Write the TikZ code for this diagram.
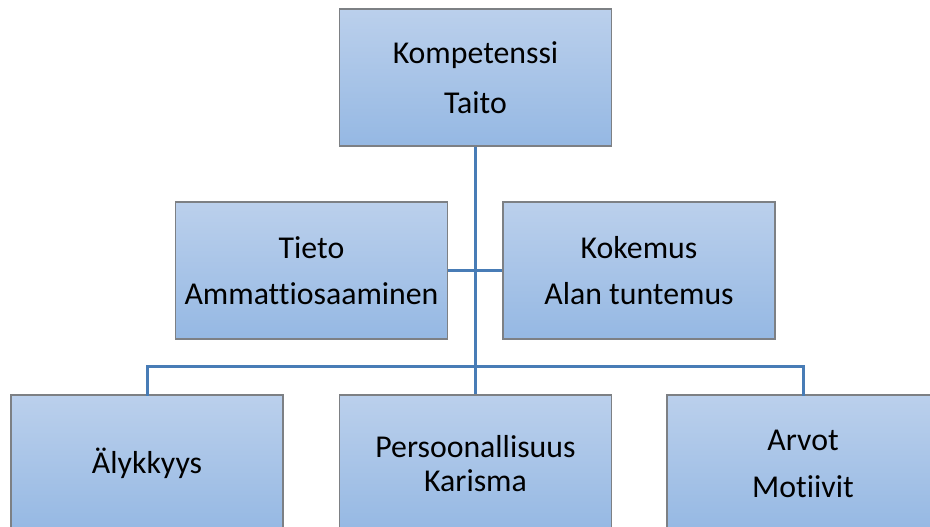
\documentclass[tikz,border=0pt]{standalone}
\usepackage{fontspec}
\setmainfont{Carlito}[Ligatures=NoCommon]
\definecolor{boxtop}{RGB}{187,208,236}
\definecolor{boxbot}{RGB}{149,184,227}
\definecolor{boxline}{RGB}{125,128,132}
\definecolor{conn}{RGB}{72,124,182}
\tikzset{
  orgbox/.style={rectangle, draw=boxline, line width=1.3pt, top color=boxtop, bottom color=boxbot,
    minimum width=272pt, minimum height=137pt, inner sep=0pt, align=center,
    font=\fontsize{31.8}{47}\selectfont, text=black},
  conline/.style={draw=conn, line width=3pt}
}
\begin{document}
\begin{tikzpicture}[x=1pt,y=-1pt]
\useasboundingbox (0,0) rectangle (930,527);
\clip (0,0) rectangle (930,527);
\node[orgbox, font=\fontsize{31.8}{50}\selectfont] (top) at (475.5,77.5) {Kompetenssi\\Taito};
\node[orgbox, font=\fontsize{31.8}{46}\selectfont] (ml) at (311.5,270.5) {Tieto\\Ammattiosaaminen};
\node[orgbox, font=\fontsize{31.8}{46}\selectfont] (mr) at (639,270.5) {Kokemus\\Alan tuntemus};
\node[orgbox] (bl) at (147,463.5) {Älykkyys};
\node[orgbox, font=\fontsize{31.8}{34}\selectfont] (bm) at (475.5,463.5) {Persoonallisuus\\Karisma};
\node[orgbox] (br) at (803,463.5) {Arvot\\Motiivit};
\coordinate (bar) at (475.5,366);
\draw[conline] (top.south) -- (bm.north);
\draw[conline] (ml.east) -- (mr.west);
\draw[conline, line cap=rect] (bl.north) |- (bar) -| (br.north);
\end{tikzpicture}
\end{document}
